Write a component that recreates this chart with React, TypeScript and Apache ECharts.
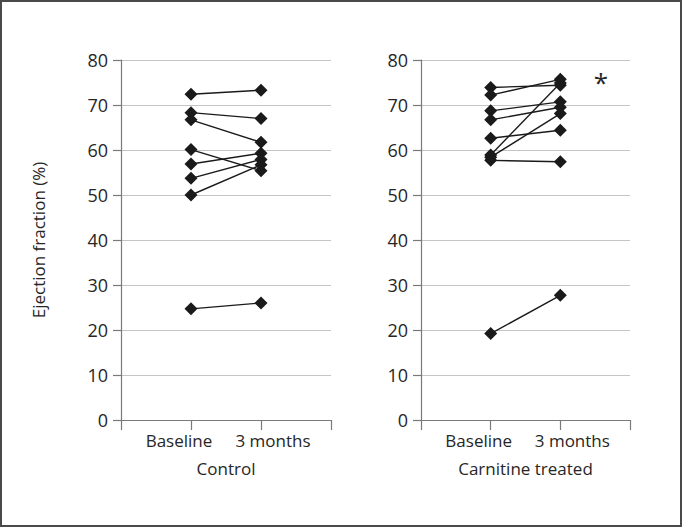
import React, { useEffect, useRef } from "react";
import * as echarts from "echarts";

const timepoints = ["Baseline", "3 months"];
const panelTitles = ["Control", "Carnitine treated"];
const yAxisTitle = "Ejection fraction (%)";

const controlBaseline = [72.4, 68.3, 66.7, 60.1, 56.9, 53.7, 50.0, 24.7];
const control3Months = [73.3, 67.0, 61.7, 55.4, 59.3, 57.9, 56.7, 26.0];

const carnitineBaseline = [73.9, 72.2, 68.7, 66.7, 62.6, 58.9, 58.4, 57.7, 19.2];
const carnitine3Months = [74.4, 75.7, 70.7, 69.5, 64.4, 74.9, 68.1, 57.4, 27.7];

const FONT = "'Open Sans', 'Noto Sans', sans-serif";
const TEXT = "#262626";
const AXIS = "#7a7a7a";
const GRIDC = "#c4c4c4";
const MARK = "#1a1a1a";

function makeSeries(base: number[], after: number[], idx: number) {
  return base.map((b, i) => ({
    type: "line" as const,
    xAxisIndex: idx,
    yAxisIndex: idx,
    data: [
      [1, b],
      [2, after[i]],
    ],
    symbol: "diamond",
    symbolSize: 13,
    itemStyle: { color: MARK },
    lineStyle: { color: MARK, width: 1.4 },
    silent: true,
  }));
}

function xAxisDef(idx: number) {
  return {
    type: "value" as const,
    gridIndex: idx,
    min: 0,
    max: 3,
    interval: 1,
    name: panelTitles[idx],
    nameLocation: "middle" as const,
    nameGap: 40,
    nameTextStyle: { fontFamily: FONT, fontSize: 17, color: TEXT },
    axisLine: { show: true, lineStyle: { color: AXIS, width: 1.2 } },
    axisTick: { show: true, length: 10, lineStyle: { color: AXIS, width: 1.2 } },
    splitLine: { show: false },
    axisLabel: {
      margin: 12,
      fontFamily: FONT,
      fontSize: 17,
      color: TEXT,
      showMinLabel: true,
      showMaxLabel: true,
      formatter: (v: number) =>
        v === 1 ? `{b|${timepoints[0]}}` : v === 2 ? `{m|${timepoints[1]}}` : "",
      rich: {
        b: { fontFamily: FONT, fontSize: 17, color: TEXT, padding: [0, 24, 0, 0] },
        m: { fontFamily: FONT, fontSize: 17, color: TEXT, padding: [0, 0, 0, 24] },
      },
    },
  };
}

function yAxisDef(idx: number) {
  return {
    type: "value" as const,
    gridIndex: idx,
    min: 0,
    max: 80,
    interval: 10,
    name: idx === 0 ? yAxisTitle : "",
    nameLocation: "middle" as const,
    nameRotate: 90,
    nameGap: 74,
    nameTextStyle: { fontFamily: FONT, fontSize: 17, color: TEXT },
    axisLine: { show: true, lineStyle: { color: AXIS, width: 1.2 } },
    axisTick: { show: true, length: 8, lineStyle: { color: AXIS, width: 1.2 } },
    splitLine: { show: true, lineStyle: { color: GRIDC, width: 1.2 } },
    axisLabel: { margin: 13, fontFamily: FONT, fontSize: 18, color: TEXT },
  };
}

export default function App() {
  const ref = useRef<HTMLDivElement>(null);
  useEffect(() => {
    document.body.style.margin = "0";
    const chart = echarts.init(ref.current!, null, { renderer: "svg" });
    chart.setOption({
      animation: false,
      backgroundColor: "#ffffff",
      grid: [
        { left: 121, top: 60, width: 210, height: 360 },
        { left: 421, top: 60, width: 209, height: 360 },
      ],
      xAxis: [xAxisDef(0), xAxisDef(1)],
      yAxis: [yAxisDef(0), yAxisDef(1)],
      series: [
        ...makeSeries(controlBaseline, control3Months, 0),
        ...makeSeries(carnitineBaseline, carnitine3Months, 1),
      ],
      graphic: [
        {
          type: "rect",
          shape: { x: 1, y: 1, width: 680, height: 525 },
          style: { fill: "none", stroke: "#4a4a4a", lineWidth: 2 },
          silent: true,
        },
        {
          type: "text",
          x: 601,
          y: 82,
          style: {
            text: "*",
            font: `26px ${FONT}`,
            fill: TEXT,
            align: "center",
            verticalAlign: "middle",
          },
          silent: true,
        },
      ],
    });
    return () => chart.dispose();
  }, []);
  return <div ref={ref} style={{ width: 682, height: 527 }} />;
}
